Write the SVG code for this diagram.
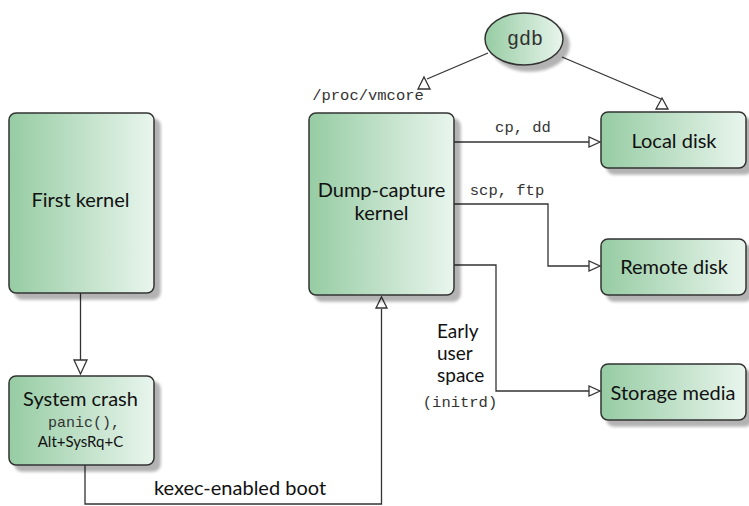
<svg xmlns="http://www.w3.org/2000/svg" width="749" height="506" viewBox="0 0 749 506">
<defs>
<linearGradient id="g" x1="0" y1="0" x2="1" y2="0">
<stop offset="0" stop-color="#96cca3"/>
<stop offset="1" stop-color="#e9f5ed"/>
</linearGradient>
<filter id="sh" x="-10%" y="-10%" width="130%" height="130%">
<feGaussianBlur in="SourceAlpha" stdDeviation="1.5"/>
<feOffset dx="6" dy="6" result="b"/>
<feComponentTransfer><feFuncA type="linear" slope="0.3"/></feComponentTransfer>
<feMerge><feMergeNode/><feMergeNode in="SourceGraphic"/></feMerge>
</filter>
</defs>
<style>
.box{fill:url(#g);stroke:#333;stroke-width:1.5;filter:url(#sh)}
.t{font-family:Lato,"Liberation Sans",sans-serif;font-size:20px;fill:#111;text-anchor:middle}
.m{font-family:"Liberation Mono","DejaVu Sans Mono",monospace;font-size:15.5px;fill:#333;text-anchor:middle}
.ln{fill:none;stroke:#333;stroke-width:1.3}
.ah{fill:#fff;stroke:#333;stroke-width:1.3;stroke-linejoin:miter}
</style>
<rect width="749" height="506" fill="#fff"/>
<g id="connectors">
<path class="ln" d="M80.5,293 V361"/>
<polygon class="ah" points="74,360 87,360 80.5,374"/>
<path class="ln" d="M85,465 V504 H381.5 V309"/>
<polygon class="ah" points="376,308 387,308 381.5,297"/>
<path class="ln" d="M454,142 H589"/>
<polygon class="ah" points="589,137 589,147 600,142"/>
<path class="ln" d="M454,204 H548 V266 H589"/>
<polygon class="ah" points="589,261 589,271 600,266"/>
<path class="ln" d="M454,265 H496 V391 H589"/>
<polygon class="ah" points="589,386 589,396 600,391"/>
<path class="ln" d="M488,53 L427,79"/>
<polygon class="ah" points="418,89 430,89 424,77"/>
<path class="ln" d="M562,57 L661,99"/>
<polygon class="ah" points="656,109 668,109 662,98"/>
<text class="t" x="240" y="495">kexec-enabled boot</text>
<text class="m" x="523" y="132">cp, dd</text>
<text class="m" x="507" y="195">scp, ftp</text>
<text class="t" x="437" y="338" style="text-anchor:start;font-size:19px">Early</text>
<text class="t" x="437" y="360" style="text-anchor:start;font-size:19px">user</text>
<text class="t" x="437" y="382" style="text-anchor:start;font-size:19px">space</text>
<text class="m" x="460" y="407">(initrd)</text>
<text class="m" x="368" y="100">/proc/vmcore</text>
</g>
<g id="first-kernel">
<rect class="box" x="9" y="113" width="145" height="180" rx="7"/>
<text class="t" x="80.5" y="207">First kernel</text>
</g>
<g id="system-crash">
<rect class="box" x="9" y="376" width="145" height="89" rx="7"/>
<text class="t" x="80.5" y="406">System crash</text>
<text class="m" x="84" y="427" style="font-size:15px">panic(),</text>
<text class="t" x="80.5" y="447" style="font-size:15px">Alt+SysRq+C</text>
</g>
<g id="dump-capture-kernel">
<rect class="box" x="309" y="113" width="145" height="182" rx="7"/>
<text class="t" x="381.5" y="197">Dump-capture</text>
<text class="t" x="381.5" y="220">kernel</text>
</g>
<g id="gdb">
<ellipse class="box" cx="524" cy="39" rx="39" ry="26"/>
<text class="m" x="525" y="45" style="font-size:20px">gdb</text>
</g>
<g id="local-disk">
<rect class="box" x="601" y="112" width="145" height="56" rx="7"/>
<text class="t" x="674" y="148">Local disk</text>
</g>
<g id="remote-disk">
<rect class="box" x="601" y="239" width="145" height="56" rx="7"/>
<text class="t" x="674" y="274">Remote disk</text>
</g>
<g id="storage-media">
<rect class="box" x="601" y="364" width="145" height="56" rx="7"/>
<text class="t" x="673" y="400">Storage media</text>
</g>
</svg>
